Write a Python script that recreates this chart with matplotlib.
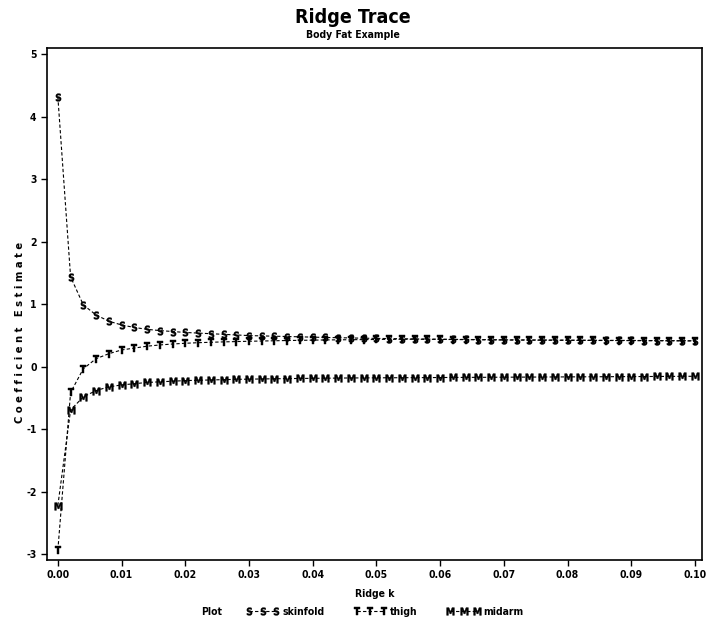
import matplotlib
matplotlib.use("Agg")
import matplotlib.pyplot as plt

#==============
# 1. RIDGE DATA
#==============
ridge_k = [0.000, 0.002, 0.004, 0.006, 0.008, 0.010, 0.012, 0.014, 0.016, 0.018,
           0.020, 0.022, 0.024, 0.026, 0.028, 0.030, 0.032, 0.034, 0.036, 0.038,
           0.040, 0.042, 0.044, 0.046, 0.048, 0.050, 0.052, 0.054, 0.056, 0.058,
           0.060, 0.062, 0.064, 0.066, 0.068, 0.070, 0.072, 0.074, 0.076, 0.078,
           0.080, 0.082, 0.084, 0.086, 0.088, 0.090, 0.092, 0.094, 0.096, 0.098,
           0.100]

skinfold = [4.32, 1.44, 0.99, 0.83, 0.73, 0.67, 0.63, 0.60, 0.58, 0.565,
            0.55, 0.54, 0.53, 0.52, 0.51, 0.50, 0.495, 0.49, 0.485, 0.48,
            0.475, 0.47, 0.466, 0.462, 0.458, 0.455, 0.452, 0.449, 0.446, 0.444,
            0.442, 0.44, 0.438, 0.436, 0.434, 0.432, 0.431, 0.43, 0.429, 0.428,
            0.427, 0.426, 0.425, 0.424, 0.423, 0.422, 0.421, 0.42, 0.419, 0.418,
            0.417]

thigh = [-2.93, -0.41, -0.03, 0.13, 0.21, 0.27, 0.30, 0.33, 0.35, 0.365,
         0.377, 0.386, 0.393, 0.399, 0.404, 0.409, 0.413, 0.417, 0.421, 0.424,
         0.427, 0.43, 0.432, 0.434, 0.436, 0.438, 0.44, 0.441, 0.441, 0.44,
         0.439, 0.437, 0.435, 0.433, 0.431, 0.429, 0.428, 0.427, 0.426, 0.425,
         0.424, 0.423, 0.422, 0.421, 0.42, 0.419, 0.418, 0.417, 0.416, 0.415,
         0.414]

midarm = [-2.22, -0.69, -0.48, -0.38, -0.32, -0.29, -0.27, -0.25, -0.24, -0.23,
          -0.22, -0.215, -0.21, -0.205, -0.2, -0.197, -0.194, -0.191, -0.188, -0.186,
          -0.184, -0.182, -0.18, -0.178, -0.177, -0.176, -0.175, -0.174, -0.173, -0.172,
          -0.171, -0.17, -0.169, -0.168, -0.167, -0.166, -0.165, -0.164, -0.163, -0.162,
          -0.161, -0.16, -0.159, -0.158, -0.157, -0.156, -0.155, -0.154, -0.153, -0.152,
          -0.151]

series = [("skinfold", skinfold, "S"), ("thigh", thigh, "T"), ("midarm", midarm, "M")]

x_ticks = [0.00, 0.01, 0.02, 0.03, 0.04, 0.05, 0.06, 0.07, 0.08, 0.09, 0.10]
y_ticks = [-3, -2, -1, 0, 1, 2, 3, 4, 5]

#=========
# 2. STYLE
#=========
plt.rcParams["font.family"] = ["DejaVu Sans"]
plt.rcParams["font.stretch"] = "condensed"
plt.rcParams["axes.unicode_minus"] = False
plt.rcParams["mathtext.fontset"] = "custom"
plt.rcParams["mathtext.sf"] = "DejaVu Sans:bold:stretch=condensed"

fig = plt.figure(figsize=(7.06, 6.24), dpi=100)
ax = fig.add_axes([0.0666, 0.1026, 0.9277, 0.8204])

#========
# 3. PLOT
#========
for name, vals, letter in series:
    ax.plot(ridge_k, vals, color="black", lw=0.8, ls=(0, (3, 2)),
            marker=r"$\mathsf{" + letter + "}$", markersize=5.5,
            markeredgewidth=0.3, label=name)

ax.set_xlim(-0.0017, 0.1011)
ax.set_ylim(-3.09, 5.1)
ax.set_xticks(x_ticks)
ax.set_xticklabels([f"{t:.2f}" for t in x_ticks])
ax.set_yticks(y_ticks)
ax.tick_params(direction="out", length=4, width=1, labelsize=7.5)
for lbl in ax.get_xticklabels() + ax.get_yticklabels():
    lbl.set_fontweight("bold")
for sp in ax.spines.values():
    sp.set_linewidth(1.2)

ax.set_xlabel("Ridge k", fontsize=7.5, fontweight="bold", labelpad=6)
ax.set_ylabel("C o e f f i c i e n t   E s t i m a t e", fontsize=8,
              fontweight="bold")
ax.yaxis.set_label_coords(-0.033, 0.445)

fig.text(0.5, 0.972, "Ridge Trace", ha="center", va="center",
         fontsize=14, fontweight="bold")
fig.text(0.5, 0.944, "Body Fat Example", ha="center", va="center",
         fontsize=7.5, fontweight="bold")

fig.text(0.285, 0.019, "Plot", ha="left", va="center", fontsize=7.5, fontweight="bold")
fig.legend(loc="center", bbox_to_anchor=(0.545, 0.019), ncol=3, frameon=False,
           numpoints=3, handlelength=3.2, handletextpad=0.3, columnspacing=2.8,
           prop={"size": 7.5, "weight": "bold"})

fig.savefig("out.png", dpi=100)
